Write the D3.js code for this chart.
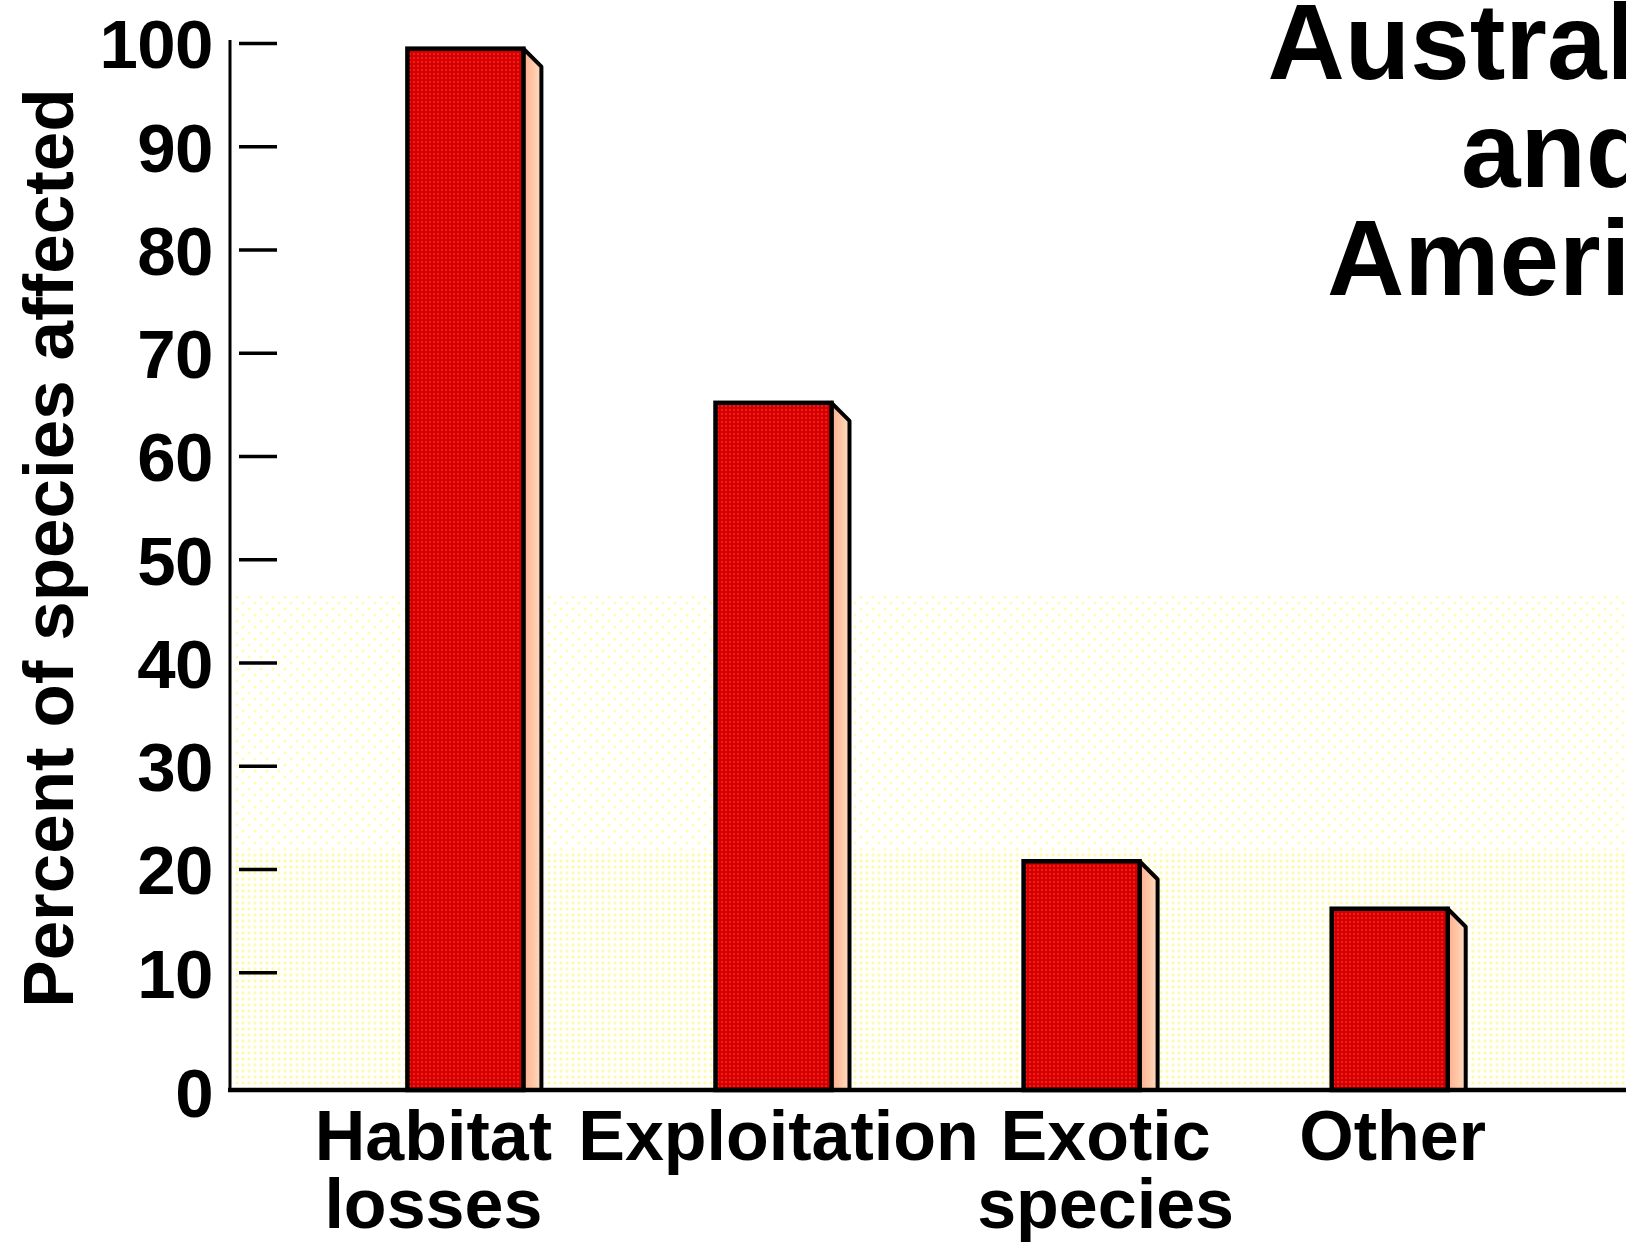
<!DOCTYPE html>
<html lang="en">
  <head>
    <meta charset="utf-8">
    <title>Percent of species affected</title>
    <script src="https://d3js.org/d3.v7.js"></script>
    <style>
      body { margin: 0; background: #fff; }
      text {
        font-family: "Liberation Sans", Arial, Helvetica, sans-serif;
        font-weight: bold;
        fill: #000;
      }
    </style>
  </head>
  <body>
    <script type="text/javascript">

      // data
      var categories = ["Habitat losses", "Exploitation", "Exotic species", "Other"];
      var categoryLines = [["Habitat", "losses"], ["Exploitation"], ["Exotic", "species"], ["Other"]];
      var percentAffected = [99.5, 65.2, 20.8, 16.2];
      var yTickValues = [10, 20, 30, 40, 50, 60, 70, 80, 90, 100];
      var titleLines = ["Australasia", "and", "Americas"];
      var yTitle = "Percent of species affected";

      var w = 1626;
      var h = 1242;
      var axisX = 230;
      var floorY = 1090;   // the drawn floor sits a bit under the 0 level
      var depth = 18;      // 3d side of the bars

      var yScale = d3.scaleLinear()
        .domain([0, 100])
        .range([1076, 43.5]);

      var xScale = d3.scaleBand()
        .domain(categories)
        .range([407.4, 1447.7])
        .paddingInner(0.6235)
        .paddingOuter(0);

      // label nudges, the labels are not quite centred under the bars
      var labelShift = [-32, 5, 24, 3];
      // title lines are nudged a little too
      var titleShift = [0, 0, 12];

      var svg = d3.select("body")
        .append("svg")
          .attr("width", w)
          .attr("height", h);

      var defs = svg.append("defs");

      // stippled background bands
      var sparse = defs.append("pattern")
        .attr("id", "sparse")
        .attr("patternUnits", "userSpaceOnUse")
        .attr("width", 12).attr("height", 12);
      sparse.append("circle").attr("cx", 3).attr("cy", 3).attr("r", 1.6).attr("fill", "#fffcb4");
      sparse.append("circle").attr("cx", 9).attr("cy", 9).attr("r", 1.6).attr("fill", "#fffcb4");

      var dense = defs.append("pattern")
        .attr("id", "dense")
        .attr("patternUnits", "userSpaceOnUse")
        .attr("width", 6).attr("height", 6);
      dense.append("circle").attr("cx", 3).attr("cy", 3).attr("r", 1.7).attr("fill", "#fffab0");

      // dithered red of the bar fronts
      var red = defs.append("pattern")
        .attr("id", "red")
        .attr("patternUnits", "userSpaceOnUse")
        .attr("width", 4).attr("height", 4);
      red.append("rect").attr("width", 4).attr("height", 4).attr("fill", "#d40000");
      red.append("circle").attr("cx", 2).attr("cy", 2).attr("r", 0.9).attr("fill", "#ff2a2a");

      var side = defs.append("linearGradient")
        .attr("id", "side")
        .attr("x1", 0).attr("x2", 1).attr("y1", 0).attr("y2", 0);
      side.append("stop").attr("offset", "0%").attr("stop-color", "#ffae8c");
      side.append("stop").attr("offset", "100%").attr("stop-color", "#ffdcc0");

      svg.append("rect")
        .attr("x", axisX + 2).attr("y", 596)
        .attr("width", w - axisX).attr("height", 254)
        .attr("fill", "url(#sparse)");
      svg.append("rect")
        .attr("x", axisX + 2).attr("y", 850)
        .attr("width", w - axisX).attr("height", floorY - 850)
        .attr("fill", "url(#dense)");

      // bars
      var bars = svg.append("g").attr("id", "bars")
        .selectAll("g")
        .data(categories)
        .enter().append("g");

      bars.append("path")
        .attr("d", function(d, i) {
          var xr = xScale(d) + xScale.bandwidth();
          var yt = yScale(percentAffected[i]);
          return "M" + xr + "," + yt + "L" + (xr + depth) + "," + (yt + depth) +
                 "L" + (xr + depth) + "," + floorY + "L" + xr + "," + floorY + "Z";
        })
        .attr("fill", "url(#side)")
        .attr("stroke", "#000")
        .attr("stroke-width", 4)
        .attr("stroke-linejoin", "round");

      bars.append("rect")
        .attr("x", d => xScale(d))
        .attr("y", (d, i) => yScale(percentAffected[i]))
        .attr("width", xScale.bandwidth())
        .attr("height", (d, i) => floorY - yScale(percentAffected[i]))
        .attr("fill", "url(#red)")
        .attr("stroke", "#000")
        .attr("stroke-width", 4.5);

      // axes
      svg.append("line")
        .attr("x1", axisX).attr("x2", axisX)
        .attr("y1", 40).attr("y2", floorY)
        .attr("stroke", "#000").attr("stroke-width", 3);

      svg.append("line")
        .attr("x1", axisX - 2).attr("x2", w)
        .attr("y1", floorY).attr("y2", floorY)
        .attr("stroke", "#000").attr("stroke-width", 4.5);

      var ticks = svg.append("g").attr("class", "yAxis");
      ticks.selectAll("line")
        .data(yTickValues).enter().append("line")
        .attr("x1", 239).attr("x2", 277)
        .attr("y1", d => yScale(d)).attr("y2", d => yScale(d))
        .attr("stroke", "#000").attr("stroke-width", 3.5);

      ticks.selectAll("text")
        .data([0].concat(yTickValues)).enter().append("text")
        .attr("x", 213)
        .attr("y", d => d === 0 ? floorY + 2 : yScale(d))
        .attr("dy", "0.36em")
        .attr("text-anchor", "end")
        .attr("font-size", 69)
        .attr("letter-spacing", -0.5)
        .text(d => d);

      // y title
      svg.append("text")
        .attr("transform", "translate(73, 548) rotate(-90)")
        .attr("text-anchor", "middle")
        .attr("font-size", 71)
        .text(yTitle);

      // category labels
      var labels = svg.append("g").attr("class", "xLabels")
        .selectAll("text")
        .data(categories)
        .enter().append("text")
        .attr("text-anchor", "middle")
        .attr("font-size", 70);

      labels.selectAll("tspan")
        .data((d, i) => categoryLines[i].map(t => ({ t: t, i: i })))
        .enter().append("tspan")
        .attr("x", d => xScale(categories[d.i]) + xScale.bandwidth() / 2 + labelShift[d.i])
        .attr("y", (d, j) => 1160 + j * 68)
        .text(d => d.t);

      // title, cut by the right edge as in the original
      svg.append("text")
        .attr("text-anchor", "middle")
        .attr("font-size", 107)
        .selectAll("tspan")
        .data(titleLines).enter().append("tspan")
        .attr("x", (d, i) => 1556 + titleShift[i])
        .attr("y", (d, i) => 79 + i * 108)
        .text(d => d);

    </script>
  </body>
</html>
